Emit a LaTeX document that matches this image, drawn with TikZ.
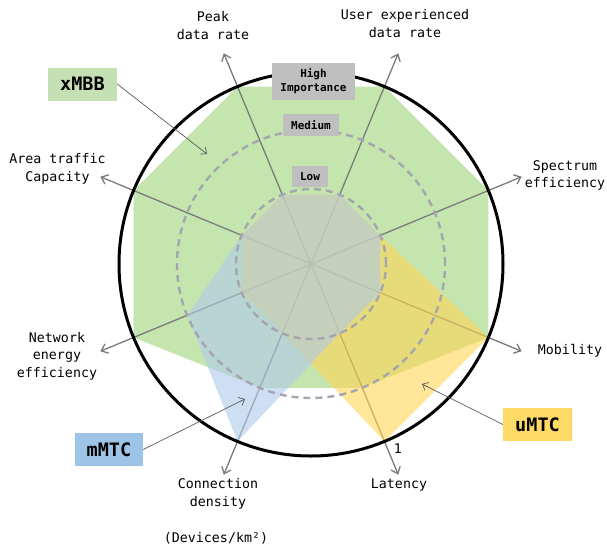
\documentclass[tikz,border=0pt]{standalone}
\usepackage{fontspec}
\setmonofont{DejaVu Sans Mono}
\usetikzlibrary{arrows.meta,calc}
\definecolor{axisgray}{HTML}{7A7A7A}
\definecolor{dashgray}{HTML}{A5A5B0}
\definecolor{boxgray}{HTML}{BFBFBF}
\definecolor{gfill}{HTML}{9ED47A}
\definecolor{yfill}{HTML}{FFD555}
\definecolor{bfill}{HTML}{AFCAEB}
\definecolor{gbox}{HTML}{C5E0B4}
\definecolor{ybox}{HTML}{FFD966}
\definecolor{bbox}{HTML}{9DC3E6}
\definecolor{connc}{HTML}{595959}
\begin{document}
\begin{tikzpicture}[x=1pt,y=1pt,
  axisline/.style={draw=axisgray,line width=1.3pt,-{Straight Barb[length=6pt,width=10pt,line width=1.3pt]}},
  ring/.style={draw=dashgray,line width=2.4pt,dash pattern=on 7pt off 5pt},
  levelbox/.style={fill=boxgray,inner sep=0pt,font=\ttfamily\bfseries\fontsize{11}{14}\selectfont,align=center},
  catbox/.style={inner sep=0pt,minimum width=69pt,minimum height=33pt,font=\ttfamily\bfseries\fontsize{18.5}{22}\selectfont},
  conn/.style={draw=connc,line width=0.7pt,-{Straight Barb[length=5pt,width=9pt,line width=0.7pt]}},
  axlabel/.style={font=\ttfamily\fontsize{13.3}{17.5}\selectfont,align=center,inner sep=0pt}]
\useasboundingbox (-311,-283) rectangle (296,264);
\coordinate (O) at (0,0);
% axis end points
\foreach \n/\a in {pk/112.5,ue/67.5,se/22.5,mo/-22.5,la/-67.5,cd/-112.5,ne/-157.5,at/157.5}{
  \coordinate (\n) at (\a:228);
  \coordinate (\n L) at (\a:75);
  \coordinate (\n M) at (\a:134);
  \coordinate (\n H) at (\a:192);
}
% xMBB
\fill[gfill,fill opacity=0.6] (pkH) -- (ueH) -- (seH) -- (moH) -- (laM) -- (cdM) -- (neH) -- (atH) -- cycle;
% axes
\foreach \n in {pk,ue,se,mo,la,cd,ne,at}{ \draw[axisline] (O) -- (\n); }
% uMTC
\fill[yfill,fill opacity=0.6] (pkL) -- (ueL) -- (seL) -- (moH) -- (laH) -- (cdL) -- (neL) -- (atL) -- cycle;
% mMTC
\fill[bfill,fill opacity=0.6] (pkL) -- (ueL) -- (seL) -- (moL) -- (laL) -- (cdH) -- (neM) -- (atL) -- cycle;
% rings
\draw[ring] (O) circle (75);
\draw[ring] (O) circle (134);
\draw[line width=3pt] (O) circle (192);
% level boxes
\node[levelbox,minimum width=83pt,minimum height=37pt] (high) at (2.5,182.5) {High\\Importance};
\node[levelbox,minimum width=56pt,minimum height=22pt] (med) at (0,139) {Medium};
\node[levelbox,minimum width=36pt,minimum height=21pt] (low) at (-1,87.5) {Low};
% category boxes
\node[catbox,fill=gbox] (xmbb) at (-228.5,180) {xMBB};
\node[catbox,fill=bbox,minimum width=68pt] (mmtc) at (-202,-185.5) {mMTC};
\node[catbox,fill=ybox] (umtc) at (226.5,-160.5) {uMTC};
\coordinate (xt) at (-104,110);
\coordinate (mt) at (-66,-135);
\coordinate (ut) at (111,-120);
\draw[conn] (xmbb.east) -- (xt);
\draw[conn] (mmtc.east) -- (mt);
\draw[conn] (umtc.west) -- (ut);
% axis labels
\node[axlabel] (tpk) at (-98,238.5) {Peak\\data rate};
\node[axlabel] (tue) at (94,240.5) {User experienced\\data rate};
\node[axlabel] (tat) at (-253.5,95) {Area traffic\\Capacity};
\node[axlabel] (tse) at (254,88.5) {Spectrum\\efficiency};
\node[axlabel] (tmo) at (259,-87) {Mobility};
\node[axlabel] (tne) at (-254,-92) {Network\\energy\\efficiency};
\node[axlabel] (tcd) at (-93,-230) {Connection\\density};
\node[axlabel] (tdev) at (-95,-274) {(Devices/km²)};
\node[axlabel] (tla) at (88,-221) {Latency};
\node[axlabel] (one) at (87,-185) {1};
\end{tikzpicture}
\end{document}
